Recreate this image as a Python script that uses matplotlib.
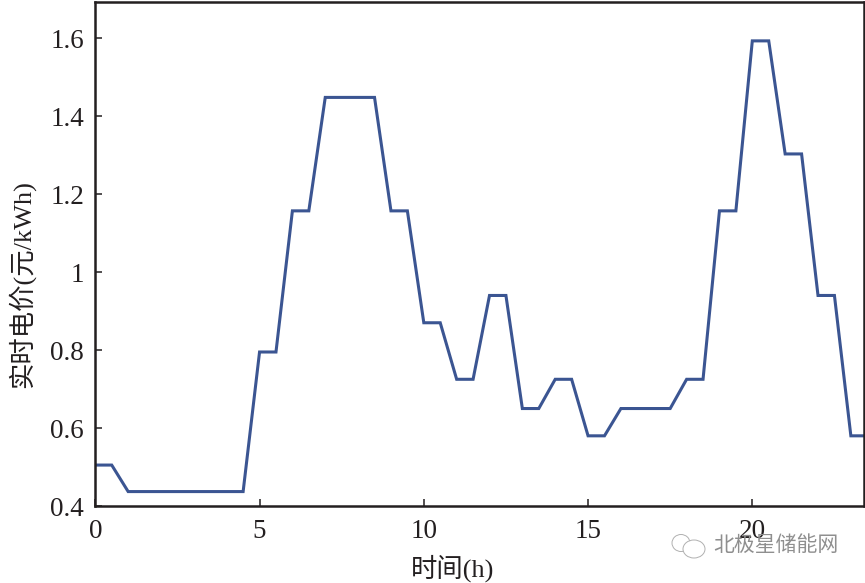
import matplotlib
matplotlib.use("Agg")
import matplotlib.pyplot as plt
from matplotlib.patches import Ellipse

FONTS = ['Liberation Serif', 'Noto Sans CJK SC', 'DejaVu Sans']

hours = [0, 0.5, 1, 1.5, 2, 2.5, 3, 3.5, 4, 4.5, 5, 5.5, 6, 6.5, 7, 7.5, 8, 8.5,
         9, 9.5, 10, 10.5, 11, 11.5, 12, 12.5, 13, 13.5, 14, 14.5, 15, 15.5,
         16, 16.5, 17, 17.5, 18, 18.5, 19, 19.5, 20, 20.5, 21, 21.5, 22, 22.5, 23, 23.5]
price = [0.505, 0.505, 0.437, 0.437, 0.437, 0.437, 0.437, 0.437, 0.437, 0.437,
         0.795, 0.795, 1.157, 1.157, 1.448, 1.448, 1.448, 1.448,
         1.157, 1.157, 0.870, 0.870, 0.725, 0.725, 0.940, 0.940, 0.650, 0.650,
         0.725, 0.725, 0.580, 0.580, 0.650, 0.650, 0.650, 0.650, 0.725, 0.725,
         1.157, 1.157, 1.593, 1.593, 1.303, 1.303, 0.940, 0.940, 0.580, 0.580]
x_ticks = [0, 5, 10, 15, 20]
y_ticks = [0.4, 0.6, 0.8, 1.0, 1.2, 1.4, 1.6]
y_tick_labels = ['0.4', '0.6', '0.8', '1', '1.2', '1.4', '1.6']
x_label = '时间(h)'
y_label = '实时电价(元/kWh)'
watermark = '北极星储能网'

W, H = 865, 583
fig = plt.figure(figsize=(W / 100, H / 100), dpi=100, facecolor='white')
ax = fig.add_axes([95.3 / W, 1 - 506 / H, (864 - 95.3) / W, (506 - 1.5) / H])
ax.plot(hours, price, color='#3b5592', lw=2.2, solid_joinstyle='miter')
ax.set_xlim(0, 23.4)
ax.set_ylim(0.4, 1.694)
ax.set_xticks(x_ticks)
ax.set_xticklabels([str(t) for t in x_ticks], family=FONTS, fontsize=19.5, color='#231f20')
ax.set_yticks(y_ticks)
ax.set_yticklabels(y_tick_labels, family=FONTS, fontsize=19.5, color='#231f20')
ax.tick_params(direction='in', length=5, width=1.1, color='#231f20')
ax.tick_params(axis='x', pad=9.5)
ax.tick_params(axis='y', pad=8)
for s in ax.spines.values():
    s.set_linewidth(1.8)
    s.set_color('#231f20')
fig.text(453 / W, 1 - 568 / H, x_label, family=FONTS, fontsize=19, color='#231f20',
         ha='center', va='center')
fig.text(21 / W, 1 - 284 / H, y_label, family=FONTS, fontsize=19, color='#231f20',
         ha='center', va='center', rotation=90)

# watermark
fig.text(775.5 / W, 1 - 546 / H, watermark, family=FONTS, fontsize=15, color='#8f8f8f',
         ha='center', va='center')
for cx, cy, ew, eh in [(681, 543, 18, 17), (694, 549, 22, 18)]:
    fig.add_artist(Ellipse((cx / W, 1 - cy / H), ew / W, eh / H, transform=fig.transFigure,
                           fc='white', ec='#b0b0b0', lw=0.7))
fig.savefig('out.png', dpi=100)
